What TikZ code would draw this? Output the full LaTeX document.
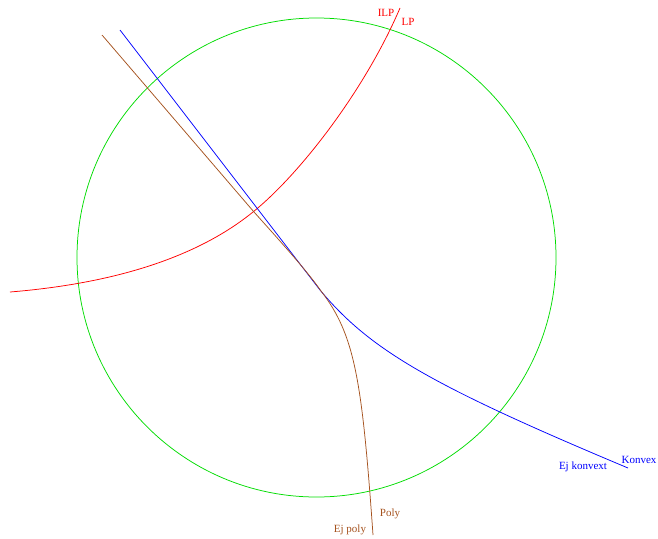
\documentclass[tikz,border=0pt]{standalone}
\usepackage{fontspec}
\setmainfont{Liberation Serif}
\definecolor{brn}{RGB}{165,82,30}
\definecolor{grn}{RGB}{0,220,0}
\begin{document}
\begin{tikzpicture}[x=1pt,y=-1pt,
  curve/.style={line width=0.75pt},
  lab/.style={font=\fontsize{11}{12}\selectfont, inner sep=0pt}]
\useasboundingbox (0,0) rectangle (658,538);
\draw[grn, curve] (316.5,257.5) circle (239.5);
\draw[red, curve] (10,292) .. controls (120,283) and (200,255) .. (253,212) .. controls (300,174) and (365,90) .. (400,8);
\draw[blue, curve] (120,30) -- (320,290) .. controls (370,350) and (430,385) .. (628,468);
\draw[brn, curve] (102,35) -- (254,212) .. controls (290,252) and (310,275) .. (321,291) .. controls (355,335) and (362,380) .. (373,535);
\node[lab, text=red] (ilp) at (386,13) {ILP};
\node[lab, text=red] (lp) at (408,22) {LP};
\node[lab, text=blue] (konvex) at (639,460) {Konvex};
\node[lab, text=blue] (ejk) at (583,467) {Ej konvext};
\node[lab, text=brn] (poly) at (390,514) {Poly};
\node[lab, text=brn] (ejp) at (350,530) {Ej poly};
\end{tikzpicture}
\end{document}
